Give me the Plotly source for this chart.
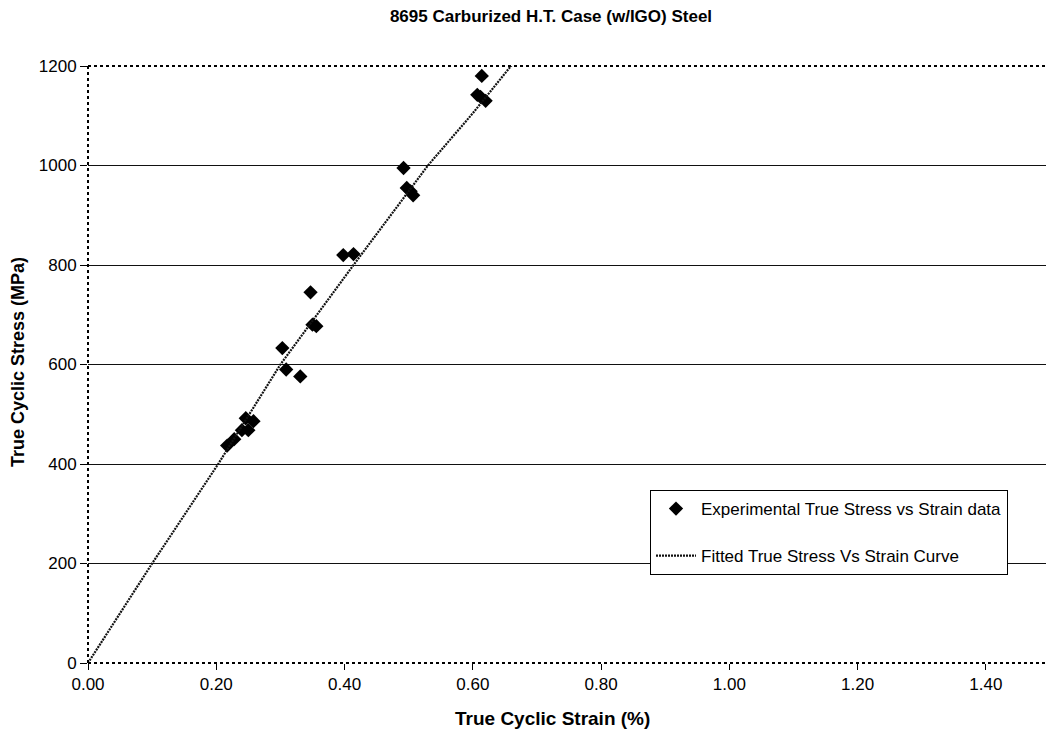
import plotly.graph_objects as go

# Experimental data (strain %, stress MPa)
exp_strain = [0.217, 0.228, 0.240, 0.250, 0.246, 0.258, 0.303, 0.309, 0.331,
              0.347, 0.350, 0.356, 0.398, 0.414, 0.492, 0.497, 0.503, 0.507,
              0.607, 0.612, 0.614, 0.620]
exp_stress = [437, 450, 468, 468, 492, 486, 633, 590, 576,
              745, 680, 677, 820, 822, 995, 955, 948, 940,
              1142, 1138, 1180, 1130]

# Fitted curve points
fit_strain = [0.0, 0.10, 0.203, 0.30, 0.414, 0.53, 0.60, 0.667]
fit_stress = [0, 200, 400, 600, 800, 1000, 1105, 1212]

x_ticks = [0.0, 0.2, 0.4, 0.6, 0.8, 1.0, 1.2, 1.4]
x_tick_labels = ["0.00", "0.20", "0.40", "0.60", "0.80", "1.00", "1.20", "1.40"]
y_ticks = [0, 200, 400, 600, 800, 1000, 1200]

FONT = "Liberation Sans, Arial, sans-serif"

fig = go.Figure()
fig.add_trace(go.Scatter(
    x=exp_strain, y=exp_stress, mode="markers",
    name="Experimental True Stress vs Strain data",
    marker=dict(symbol="diamond", size=11, color="black"),
    legendgroup="a",
))
fig.add_trace(go.Scatter(
    x=fit_strain, y=fit_stress, mode="lines",
    name="Fitted True Stress Vs Strain Curve",
    line=dict(color="#111111", width=2.2, dash="2px,1px"),
    legendgroup="b",
))

shapes = [
    dict(type="line", xref="paper", yref="paper", x0=0, x1=1, y0=1, y1=1,
         line=dict(color="black", width=2, dash="dot")),
    dict(type="line", xref="paper", yref="paper", x0=0, x1=1, y0=0, y1=0,
         line=dict(color="black", width=2, dash="dot")),
    dict(type="line", xref="paper", yref="paper", x0=0, x1=0, y0=0, y1=1,
         line=dict(color="black", width=2, dash="dot")),
]

fig.update_layout(
    width=1046, height=740,
    margin=dict(l=88, r=0, t=66, b=77),
    paper_bgcolor="white", plot_bgcolor="white",
    font=dict(family=FONT, color="black", size=17),
    title=dict(text="<b>8695 Carburized H.T. Case (w/IGO) Steel</b>",
               x=551/1046, xanchor="center", xref="container",
               y=1 - 16/740, yanchor="middle", yref="container",
               font=dict(size=17, family=FONT)),
    xaxis=dict(range=[0, 956/640], tickvals=x_ticks, ticktext=x_tick_labels,
               showgrid=False, zeroline=False, showline=False,
               ticks="outside", ticklen=6, tickcolor="black",
               tickfont=dict(size=17)),
    yaxis=dict(range=[0, 1200], tickvals=y_ticks,
               showgrid=True, gridcolor="#111111", gridwidth=1,
               zeroline=False, showline=False,
               ticks="outside", ticklen=7, tickcolor="black",
               tickfont=dict(size=17)),
    shapes=shapes,
    showlegend=True,
    legend=dict(x=(650-88)/958, y=(663-490)/597, xanchor="left", yanchor="top",
                bgcolor="white", bordercolor="black", borderwidth=1,
                font=dict(size=17, family=FONT), itemwidth=40,
                traceorder="grouped", tracegroupgap=22),
    annotations=[
        dict(text="<b>True Cyclic Strain (%)</b>", xref="paper", yref="paper",
             x=(552-88)/958, y=-(718-663)/597, xanchor="center", yanchor="middle",
             showarrow=False, font=dict(size=19, family=FONT)),
        dict(text="<b>True Cyclic Stress (MPa)</b>", xref="paper", yref="paper",
             x=-(88-18)/958, y=(663-362)/597, xanchor="center", yanchor="middle",
             textangle=-90, showarrow=False, font=dict(size=18, family=FONT)),
    ],
)

fig.write_html("out.html")
